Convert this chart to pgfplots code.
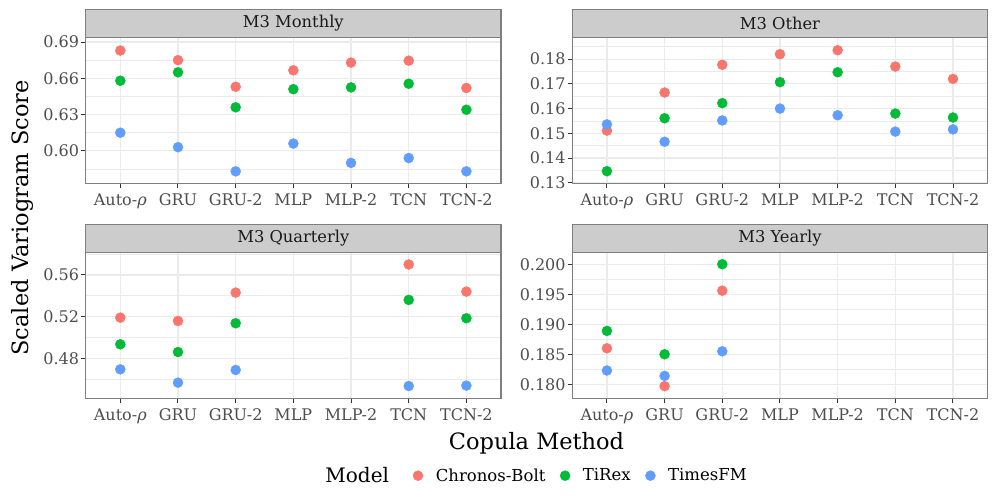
\documentclass[border=0pt]{standalone}
\usepackage{fontspec}
\setmainfont{DejaVu Serif}
\newfontfamily\legfont{DejaVu Serif}
\usepackage{pgfplots}
\usepackage{pgfplotstable}
\pgfplotsset{compat=1.18}

\definecolor{cb}{HTML}{F8766D}
\definecolor{tr}{HTML}{00BA38}
\definecolor{tf}{HTML}{619CFF}
\definecolor{gridc}{HTML}{EBEBEB}
\definecolor{framec}{HTML}{7F7F7F}
\definecolor{stripc}{HTML}{CCCCCC}
\definecolor{tickc}{HTML}{4D4D4D}

% x: 0 Auto-rho, 1 GRU, 2 GRU-2, 3 MLP, 4 MLP-2, 5 TCN, 6 TCN-2
\pgfplotstableread{
x cb     tr     tf
0 0.683  0.658  0.615
1 0.675  0.665  0.603
2 0.653  0.636  0.583
3 0.6666 0.651  0.606
4 0.673  0.6525 0.590
5 0.6746 0.6555 0.594
6 0.652  0.634  0.583
}\monthly
\pgfplotstableread{
x cb     tr     tf
0 0.1511 0.1347 0.1536
1 0.1665 0.1561 0.1466
2 0.1777 0.1622 0.1552
3 0.1820 0.1707 0.1600
4 0.1836 0.1747 0.1573
5 0.1770 0.1580 0.1507
6 0.1720 0.1564 0.1516
}\other
\pgfplotstableread{
x cb     tr     tf
0 0.519  0.4934 0.4694
1 0.5158 0.486  0.4566
2 0.543  0.5136 0.4688
5 0.570  0.536  0.4534
6 0.544  0.5184 0.4538
}\quarterly
\pgfplotstableread{
x cb     tr     tf
0 0.1860 0.1889 0.1823
1 0.1797 0.1850 0.1814
2 0.1956 0.2000 0.1855
}\yearly

\pgfplotsset{
  facet/.style={
    scale only axis, width=415.3bp, height=145.7bp,
    anchor=south west,
    xmin=-0.6, xmax=6.6,
    xtick={0,...,6},
    xticklabels={Auto-{\itshape ρ}, GRU, GRU-2, MLP, MLP-2, TCN, TCN-2},
    tick pos=left,
    tick align=outside,
    major tick length=4.5bp,
    minor tick length=0pt,
    tick style={draw=black!80, line width=1bp},
    axis line style={draw=framec, line width=1.4bp},
    grid=both,
    major grid style={draw=gridc, line width=1.2bp},
    minor grid style={draw=gridc, line width=0.6bp},
    ticklabel style={font=\rmfamily\fontsize{16bp}{19bp}\selectfont, text=tickc, inner sep=0pt},
    x tick label style={yshift=-6bp},
    y tick label style={xshift=-2bp},
    /pgf/number format/assume math mode=true,
    scaled y ticks=false,
    every axis title/.style={at={(0.5,1)}, anchor=south, fill=stripc, draw=framec,
      line width=1.4bp, minimum width=415.3bp, minimum height=28bp, inner sep=0pt,
      outer sep=0pt, font=\rmfamily\fontsize{16.3bp}{19bp}\selectfont, text=black!90},
  },
  prec/.style={y tick label style={/pgf/number format/fixed,
      /pgf/number format/fixed zerofill, /pgf/number format/precision=#1}},
  pt/.style={only marks, mark=*, mark size=5bp, color=#1,
    mark options={draw=none, fill=#1},
    legend image code/.code={\path (0bp,0bp) (17bp,0bp);
      \draw[mark repeat=2, mark phase=2, ##1] plot coordinates {(0bp,0bp) (8.5bp,0bp) (17bp,0bp)};}},
}

\begin{document}
\begin{tikzpicture}
\useasboundingbox (0,0) rectangle (997bp,498bp);

\begin{axis}[facet, at={(85.7bp,314.7bp)}, title={M3 Monthly}, prec=2,
  ymin=0.5731, ymax=0.6937, ytick={0.60,0.63,0.66,0.69},
  minor ytick={0.585,0.615,0.645,0.675}]
  \addplot[pt=cb] table[x=x, y=cb] {\monthly};
  \addplot[pt=tr] table[x=x, y=tr] {\monthly};
  \addplot[pt=tf] table[x=x, y=tf] {\monthly};
\end{axis}

\begin{axis}[facet, at={(572.3bp,314.7bp)}, title={M3 Other}, prec=2,
  ymin=0.1298, ymax=0.1887, ytick={0.13,0.14,0.15,0.16,0.17,0.18},
  minor ytick={0.135,0.145,0.155,0.165,0.175,0.185}]
  \addplot[pt=cb] table[x=x, y=cb] {\other};
  \addplot[pt=tr] table[x=x, y=tr] {\other};
  \addplot[pt=tf] table[x=x, y=tf] {\other};
\end{axis}

\begin{axis}[facet, at={(85.7bp,99.7bp)}, title={M3 Quarterly}, prec=2,
  ymin=0.4416, ymax=0.5814, ytick={0.48,0.52,0.56},
  minor ytick={0.46,0.50,0.54,0.58},
  legend columns=4,
  legend style={at={(1.0735,-0.531)}, anchor=center, draw=none, fill=none,
    inner sep=0pt, font=\legfont\fontsize{16.5bp}{19bp}\selectfont, nodes={inner sep=0pt},
    /tikz/every odd column/.append style={column sep=9.1bp},
    /tikz/every even column/.append style={column sep=11bp}}]
  \addlegendimage{legend image code/.code={}}
  \addlegendentry{\fontsize{20bp}{23bp}\selectfont Model\rule{9.3bp}{0pt}}
  \addplot[pt=cb] table[x=x, y=cb] {\quarterly};
  \addlegendentry{Chronos-Bolt}
  \addplot[pt=tr] table[x=x, y=tr] {\quarterly};
  \addlegendentry{TiRex}
  \addplot[pt=tf] table[x=x, y=tf] {\quarterly};
  \addlegendentry{TimesFM}
\end{axis}

\begin{axis}[facet, at={(572.3bp,99.7bp)}, title={M3 Yearly}, prec=3,
  ymin=0.17767, ymax=0.20194, ytick={0.180,0.185,0.190,0.195,0.200},
  minor ytick={0.1825,0.1875,0.1925,0.1975}]
  \addplot[pt=cb] table[x=x, y=cb] {\yearly};
  \addplot[pt=tr] table[x=x, y=tr] {\yearly};
  \addplot[pt=tf] table[x=x, y=tf] {\yearly};
\end{axis}

\node[rotate=90, anchor=base, font=\fontsize{22.5bp}{26bp}\selectfont] at (28.3bp,280.2bp) {Scaled Variogram Score};
\node[anchor=base, font=\fontsize{22.5bp}{26bp}\selectfont] at (536.5bp,48.7bp) {Copula Method};
\end{tikzpicture}
\end{document}
